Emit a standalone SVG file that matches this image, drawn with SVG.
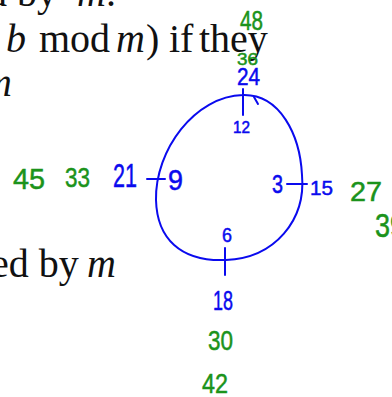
<svg xmlns="http://www.w3.org/2000/svg" width="392" height="397" viewBox="0 0 392 397">
<style>
.pr{font-family:"Liberation Serif","Times New Roman",serif;font-size:40px;fill:#111}
.it{font-style:italic}
.hw{font-family:"Liberation Sans",Arial,sans-serif;font-weight:normal;stroke-width:0.5}
.b{fill:#0a0aee;stroke:#0a0aee}
.g{fill:#1b931b;stroke:#1b931b}
.ink{fill:none;stroke:#0a0aee;stroke-width:2;stroke-linecap:round;stroke-linejoin:round}
</style>
<rect width="392" height="397" fill="#ffffff"/>
<g id="printed">
<text class="pr" y="6"><tspan x="-13">d by </tspan><tspan class="it" x="77">m</tspan><tspan>.</tspan></text>
<text class="pr" y="52"><tspan class="it" x="6">b</tspan><tspan x="39">mod</tspan><tspan class="it" x="116">m</tspan><tspan x="146">)</tspan><tspan x="169">if</tspan><tspan x="199">they</tspan></text>
<text class="pr it" x="-17" y="96">m</text>
<text class="pr" y="277"><tspan x="-9">ed by </tspan><tspan class="it" x="87">m</tspan></text>
</g>
<g id="loop">
<path class="ink" d="M243 95 C280 94 300 135 302 175 C306 220 275 258 226 260 C180 262 157 238 156 200 C155 150 195 96 243 95"/>
<path class="ink" d="M254 97 L258 104"/>
<path class="ink" d="M243 89 L243 115"/>
<path class="ink" d="M147 179 L165 179"/>
<path class="ink" d="M287 184 L307 184"/>
<path class="ink" d="M225 248 L225 275"/>
</g>
<g id="labels">
<text class="hw g" x="240" y="30" font-size="28" textLength="23" lengthAdjust="spacingAndGlyphs">48</text>
<text class="hw g" x="237" y="65" font-size="17" textLength="21" lengthAdjust="spacingAndGlyphs">36</text>
<text class="hw b" x="237" y="85" font-size="24" textLength="23" lengthAdjust="spacingAndGlyphs">24</text>
<text class="hw b" x="233" y="133" font-size="16" textLength="17" lengthAdjust="spacingAndGlyphs">12</text>
<text class="hw g" x="13" y="189" font-size="29" textLength="32" lengthAdjust="spacingAndGlyphs">45</text>
<text class="hw g" x="65" y="187" font-size="28" textLength="25" lengthAdjust="spacingAndGlyphs">33</text>
<text class="hw b" x="113" y="187" font-size="33" textLength="24" lengthAdjust="spacingAndGlyphs">21</text>
<text class="hw b" x="168" y="190" font-size="30" textLength="15" lengthAdjust="spacingAndGlyphs">9</text>
<text class="hw b" x="272" y="193" font-size="25" textLength="11" lengthAdjust="spacingAndGlyphs">3</text>
<text class="hw b" x="310" y="195" font-size="21" textLength="23" lengthAdjust="spacingAndGlyphs">15</text>
<text class="hw g" x="350" y="201" font-size="27" textLength="32" lengthAdjust="spacingAndGlyphs">27</text>
<text class="hw g" x="375" y="237" font-size="33" textLength="30" lengthAdjust="spacingAndGlyphs">39</text>
<text class="hw b" x="222" y="242" font-size="21" textLength="10" lengthAdjust="spacingAndGlyphs">6</text>
<text class="hw b" x="213" y="310" font-size="28" textLength="20" lengthAdjust="spacingAndGlyphs">18</text>
<text class="hw g" x="208" y="350" font-size="28" textLength="25" lengthAdjust="spacingAndGlyphs">30</text>
<text class="hw g" x="202" y="393" font-size="28" textLength="26" lengthAdjust="spacingAndGlyphs">42</text>
</g>
</svg>
